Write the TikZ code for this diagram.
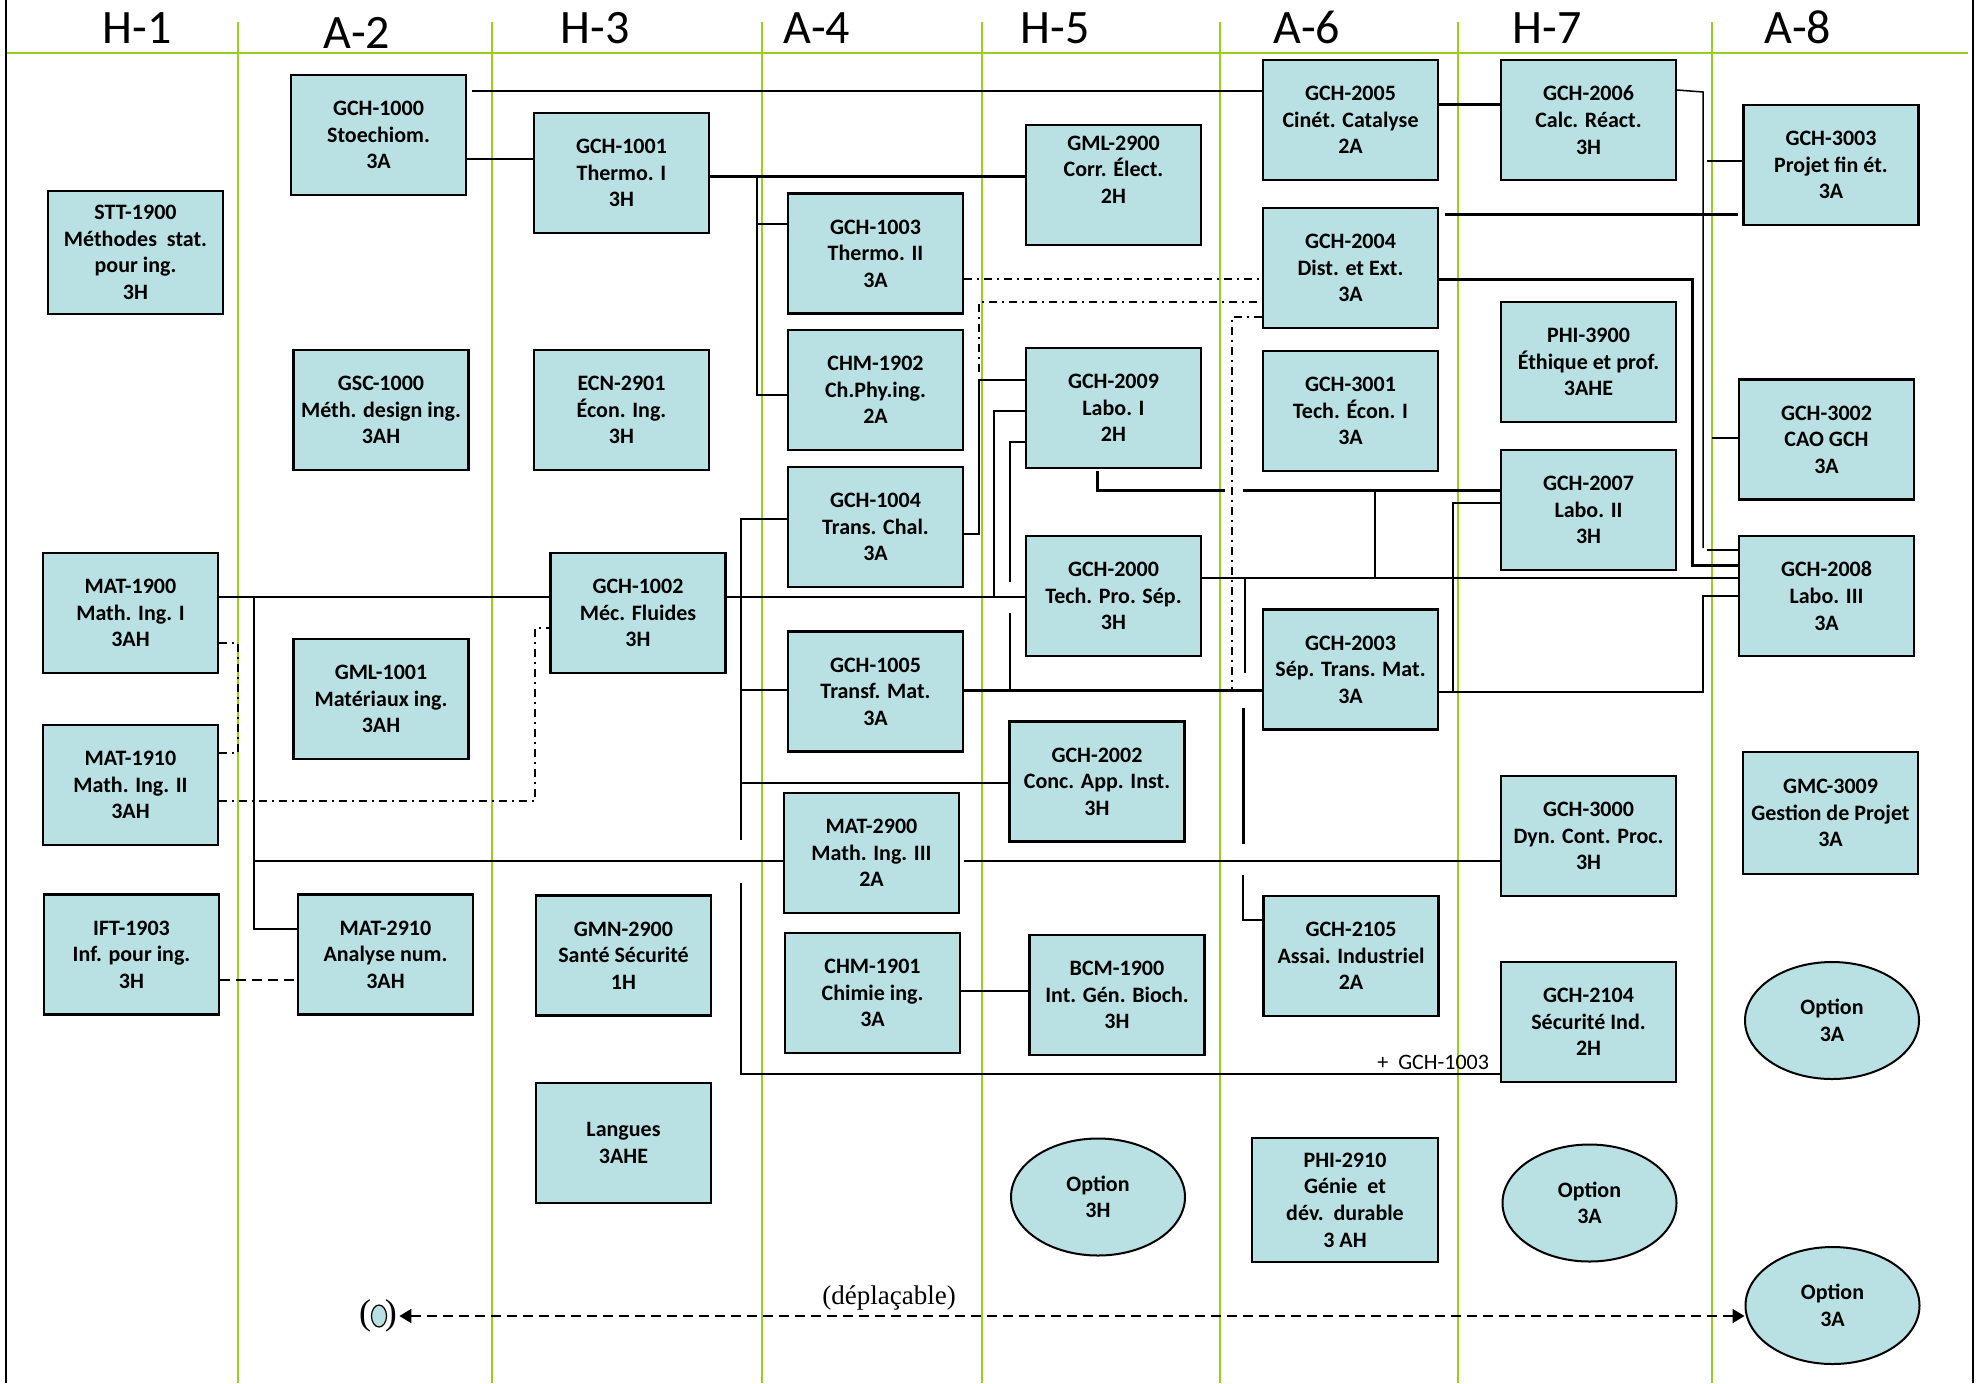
\documentclass[tikz,border=0pt]{standalone}
\usepackage{fontspec}
\setmainfont{Carlito}
\newfontfamily\serifrm{Liberation Serif}
\usetikzlibrary{arrows.meta,shapes.geometric}
\definecolor{boxfill}{RGB}{185,224,226}
\definecolor{gridgreen}{RGB}{155,205,30}
\tikzset{
 course/.style={draw=black, line width=1.1pt, fill=boxfill, rectangle, minimum width=87.5pt, minimum height=60pt, inner sep=1pt, align=center, font=\bfseries\fontsize{11}{13.3}\selectfont},
 opt/.style={draw=black, line width=1pt, fill=boxfill, ellipse, minimum width=87pt, minimum height=58.5pt, inner sep=0pt, align=center, font=\bfseries\fontsize{11}{13.3}\selectfont},
 ln/.style={line width=1pt},
 thk/.style={line width=1.5pt},
 thn/.style={line width=0.75pt},
 dashdot/.style={line width=0.9pt, dash pattern=on 4pt off 2.5pt on 1pt off 2.5pt},
 dsh/.style={line width=1pt, dash pattern=on 5pt off 3pt},
 gridline/.style={draw=gridgreen, line width=0.7pt},
 head/.style={font=\fontsize{24}{28}\selectfont, anchor=base, inner sep=0pt},
}
\begin{document}
\begin{tikzpicture}[x=0.5pt,y=-0.5pt]
\useasboundingbox (0,0) rectangle (1976,1383);
% grid
\draw[gridline] (6,53) -- (1968,53);
\foreach \gx in {238,492,762,982,1220,1458,1712}{\draw[gridline] (\gx,22) -- (\gx,1383);}
\draw[line width=0.8pt] (6,0) -- (6,1383);
\draw[line width=0.8pt] (1973,0) -- (1973,1383);
% headers
\node[head] (h1) at (137,43.5) {H-1};
\node[head] (a2) at (357,48) {A-2};
\node[head] (h3) at (595,43.5) {H-3};
\node[head] (a4) at (817,43.5) {A-4};
\node[head] (h5) at (1055,43.5) {H-5};
\node[head] (a6) at (1307,43.5) {A-6};
\node[head] (h7) at (1547,43.5) {H-7};
\node[head] (a8) at (1798,43.5) {A-8};
% courses
\node[course, minimum height=61.5pt] (stt1900) at (135.5,252.5) {STT-1900\\Méthodes\ \ stat.\\pour ing.\\3H};
\node[course] (gch1000) at (378.5,135) {GCH-1000\\Stoechiom.\\3A};
\node[course] (gsc1000) at (381,410) {GSC-1000\\Méth. design ing.\\3AH};
\node[course] (gch1001) at (621.5,173) {GCH-1001\\Thermo. I\\3H};
\node[course] (ecn2901) at (621.5,410) {ECN-2901\\Écon. Ing.\\3H};
\node[course] (gch1003) at (875.5,253.5) {GCH-1003\\Thermo. II\\3A};
\node[course] (chm1902) at (875.5,390) {CHM-1902\\Ch.Phy.ing.\\2A};
\node[course] (gml2900) at (1113.5,185) {GML-2900\\Corr. Élect.\\2H\\[-2pt]\strut};
\node[course] (gch2005) at (1350.5,120) {GCH-2005\\Cinét. Catalyse\\2A};
\node[course] (gch2004) at (1350.5,268) {GCH-2004\\Dist. et Ext.\\3A};
\node[course] (gch3001) at (1350.5,411) {GCH-3001\\Tech. Écon. I\\3A};
\node[course] (gch2009) at (1113.5,408) {GCH-2009\\Labo. I\\2H};
\node[course] (gch2006) at (1588.5,120) {GCH-2006\\Calc. Réact.\\3H};
\node[course] (gch3003) at (1831,165) {GCH-3003\\Projet fin ét.\\3A};
\node[course] (phi3900) at (1588.5,362) {PHI-3900\\Éthique et prof.\\3AHE};
\node[course] (gch3002) at (1826.5,439.5) {GCH-3002\\CAO GCH\\3A};
\node[course] (gch2007) at (1588.5,510) {GCH-2007\\Labo. II\\3H};
\node[course] (gch2008) at (1826.5,596) {GCH-2008\\Labo. III\\3A};
\node[course] (mat1900) at (130.5,613) {MAT-1900\\Math. Ing. I\\3AH};
\node[course] (mat1910) at (130.5,785) {MAT-1910\\Math. Ing. II\\3AH};
\node[course] (gml1001) at (381,699) {GML-1001\\Matériaux ing.\\3AH};
\node[course] (gch1002) at (638,613) {GCH-1002\\Méc. Fluides\\3H};
\node[course] (gch1004) at (875.5,527) {GCH-1004\\Trans. Chal.\\3A};
\node[course] (gch1005) at (875.5,691.5) {GCH-1005\\Transf. Mat.\\3A};
\node[course] (mat2900) at (871.5,853) {MAT-2900\\Math. Ing. III\\2A};
\node[course] (gch2000) at (1113.5,596) {GCH-2000\\Tech. Pro. Sép.\\3H};
\node[course] (gch2002) at (1097,781.5) {GCH-2002\\Conc. App. Inst.\\3H};
\node[course] (gch2003) at (1350.5,669.5) {GCH-2003\\Sép. Trans. Mat.\\3A};
\node[course] (gch3000) at (1588.5,836) {GCH-3000\\Dyn. Cont. Proc.\\3H};
\node[course, minimum height=61pt] (gmc3009) at (1830.5,813) {GMC-3009\\Gestion de Projet\\3A};
\node[course] (ift1903) at (131.5,954.5) {IFT-1903\\Inf. pour ing.\\3H};
\node[course] (mat2910) at (385.5,954.5) {MAT-2910\\Analyse num.\\3AH};
\node[course] (gmn2900) at (623.5,955.5) {GMN-2900\\Santé Sécurité\\1H};
\node[course] (chm1901) at (872.5,993) {CHM-1901\\Chimie ing.\\3A};
\node[course] (bcm1900) at (1117,995) {BCM-1900\\Int. Gén. Bioch.\\3H};
\node[course] (gch2105) at (1351,956) {GCH-2105\\Assai. Industriel\\2A};
\node[course] (gch2104) at (1588.5,1022) {GCH-2104\\Sécurité Ind.\\2H};
\node[course] (langues) at (623.5,1143) {Langues\\3AHE};
\node[course, minimum width=93pt, minimum height=62pt] (phi2910) at (1345,1200) {PHI-2910\\Génie\ \ et\\dév.\ \ durable\\3 AH};
\node[opt] (opt1) at (1098,1197) {Option\\3H};
\node[opt] (opt2) at (1589.5,1203) {Option\\3A};
\node[opt] (opt3) at (1832,1020.5) {Option\\3A};
\node[opt] (opt4) at (1832.5,1305.5) {Option\\3A};
% junction coordinates
\coordinate (j757) at (757,176);
\coordinate (j254) at (254,597);
\coordinate (j994) at (994,597);
\coordinate (j741) at (741,519);
\coordinate (j979) at (979,380);
\coordinate (j1010) at (1010,690);
\coordinate (j1097) at (1097,471);
\coordinate (j1245) at (1245,578);
\coordinate (j1453) at (1453,692);
\coordinate (j1703) at (1703,92);
\coordinate (j1692) at (1692,279);
% solid connectors
\draw[ln] ([xshift=2.5pt]gch1000.east |- 0,91) -- (gch2005.west |- 0,91);
\draw[ln] (gch1000.east |- 0,159) -- (gch1001.west |- 0,159);
\draw[thk] (gch1001.east |- 0,176) -- (gml2900.west |- 0,176);
\draw[ln] (j757) |- (gch1003.west |- 0,224);
\draw[ln] (j757) |- (chm1902.west |- 0,395);
\draw[ln] (mat1900.east |- 0,597) -- (gch1002.west |- 0,597);
\draw[ln] (gch1002.east |- 0,597) -- (gch2000.west |- 0,597);
\draw[ln] (j994) |- (gch2009.west |- 0,411);
\draw[ln] (j254) |- (mat2910.west |- 0,929);
\draw[ln] (j254 |- 0,861) -- (mat2900.west |- 0,861);
\draw[ln] ([xshift=2pt]mat2900.east |- 0,861) -- (gch3000.west |- 0,861);
\draw[ln] (gch1004.west |- 0,519) -- (j741) -- (741,840);
\draw[ln] (741,883) |- (gch2104.west |- 0,1074);
\draw[ln] (741,690) -- (gch1005.west |- 0,690);
\draw[ln] (741,783) -- (gch2002.west |- 0,783);
\draw[ln] (gch1004.east |- 0,534) -| (j979) -- (gch2009.west |- 0,380);
\draw[thk] (gch1005.east |- 0,690) -- (gch2003.west |- 0,690);
\draw[ln] (j1010) -- (1010,613);
\draw[ln] (1010,582) |- (gch2009.west |- 0,442);
\draw[thk] (j1097) -- (1097,490) -- (1225,490);
\draw[thk] (1243,490) -- (gch2007.west |- 0,490);
\draw[ln] (1375,490) -- (1375,578);
\draw[ln] (gch2000.east |- 0,578) -- (gch2008.west |- 0,578);
\draw[ln] (j1245) -- (1245,673);
\draw[thk] (1243,708) -- (1243,844);
\draw[ln] (1243,875) |- (gch2105.west |- 0,920);
\draw[thn] (gch2003.east |- 0,692) -| (1703,596) -- (gch2008.west |- 0,596);
\draw[thn] (j1453) |- (gch2007.west |- 0,503);
\draw[thk] (gch2005.east |- 0,104) -- (gch2006.west |- 0,104);
\draw[thn] (gch2006.east |- 0,90) -- (j1703) -- (1703,548);
\draw[ln] (1707,550) -- (gch2008.west |- 0,550);
\draw[ln] (1707,161) -- (gch3003.west |- 0,161);
\draw[thk] ([xshift=3pt]gch2004.east |- 0,214) -- ([xshift=-2pt]gch3003.west |- 0,214);
\draw[thk] (gch2004.east |- 0,279) -- (j1692) |- (gch2008.west |- 0,565);
\draw[ln] (1712,438) -- (gch3002.west |- 0,438);
\draw[ln] (chm1901.east |- 0,991) -- (bcm1900.west |- 0,991);
% dash-dot connectors
\draw[dashdot] (gch1003.east |- 0,279) -- (gch2004.west |- 0,279);
\draw[dashdot] (979,372) -- (979,302) -- (gch2004.west |- 0,302);
\draw[dashdot] (gch2004.west |- 0,317) -| (1232,689);
\draw[dashdot] (mat1900.east |- 0,643) -| (238,753) -- (mat1910.east |- 0,753);
\draw[dashdot] (mat1910.east |- 0,801) -| (535,628) -- (gch1002.west |- 0,628);
\draw[dsh] (ift1903.east |- 0,980) -- (mat2910.west |- 0,980);
% labels
\node[anchor=base west, inner sep=0pt, font=\fontsize{11}{13}\selectfont] (lbl) at (1377,1069) {+\ \ GCH-1003};
\node[inner sep=0pt, font=\serifrm\fontsize{13.5}{16}\selectfont] (dep) at (889,1298) {(déplaçable)};
\node[inner sep=0pt, font=\serifrm\fontsize{18}{20}\selectfont] (po) at (378,1316) {(\hspace{7pt})};
\node[draw, line width=0.6pt, fill=boxfill, ellipse, minimum width=7.5pt, minimum height=11pt, inner sep=0pt] (po2) at (379,1316) {};
\draw[dsh, {Triangle[length=6pt,width=7pt]}-{Triangle[length=6pt,width=7pt]}] ([xshift=1pt]po.east) -- (po.east -| opt4.west);
\end{tikzpicture}
\end{document}
